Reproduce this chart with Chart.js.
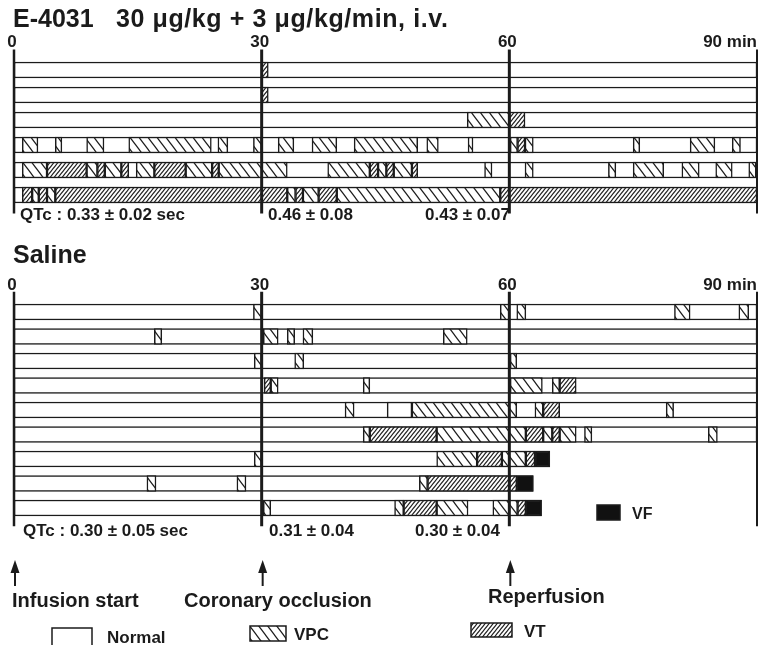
<!DOCTYPE html>
<html>
<head>
<meta charset="utf-8">
<script src="https://cdn.jsdelivr.net/npm/chart.js@4.4.1/dist/chart.umd.min.js"></script>
<style>
  body { margin: 0; background: #fff; }
  #wrap { position: relative; width: 762px; height: 645px; overflow: hidden; }
  canvas { position: absolute; left: 0; }
  #topChart { top: 0; }
  #salineChart { top: 245px; }
</style>
</head>
<body>
<div id="wrap">
  <canvas id="topChart" width="762" height="245"></canvas>
  <canvas id="salineChart" width="762" height="400"></canvas>
</div>
<script>
// arrhythmia episodes per animal, minutes from infusion start: [start, end, type]
const tickValues = [0, 30, 60, 90];
const tickLabels = ['0', '30', '60', '90 min'];

const e4031Rows = ['E1', 'E2', 'E3', 'E4', 'E5', 'E6'];
const e4031Ends = [90, 90, 90, 90, 90, 90];
const e4031Events = [
  [[30, 30.8, 'VT']],
  [[30, 30.8, 'VT']],
  [[54.9, 60, 'VPC'], [60, 61.9, 'VT']],
  [[1, 2.9, 'VPC'], [5, 5.8, 'VPC'], [8.8, 10.9, 'VPC'], [13.9, 23.9, 'VPC'], [24.7, 25.9, 'VPC'],
   [29, 30, 'VPC'], [32, 33.9, 'VPC'], [36.1, 39.1, 'VPC'], [41.2, 48.9, 'VPC'], [50, 51.4, 'VPC'],
   [55, 55.6, 'VPC'], [60.1, 61, 'VPC'], [61, 61.9, 'VT'], [61.9, 62.9, 'VPC'], [75, 75.8, 'VPC'],
   [81.9, 84.9, 'VPC'], [87, 88, 'VPC']],
  [[1, 4, 'VPC'], [4, 8.8, 'VT'], [8.8, 10.1, 'VPC'], [10.1, 11, 'VT'], [11, 13, 'VPC'], [13, 13.9, 'VT'],
   [14.8, 17, 'VPC'], [17, 20.8, 'VT'], [20.8, 24, 'VPC'], [24, 24.8, 'VT'], [24.8, 33.1, 'VPC'],
   [38, 43.1, 'VPC'], [43.1, 44.1, 'VT'], [44.1, 45.1, 'VPC'], [45.1, 46, 'VT'], [46, 48.2, 'VPC'],
   [48.2, 48.9, 'VT'], [57, 57.9, 'VPC'], [61.9, 62.9, 'VPC'], [72, 72.9, 'VPC'], [75, 78.7, 'VPC'],
   [80.9, 83, 'VPC'], [85, 87, 'VPC'], [89, 89.9, 'VPC']],
  [[1, 2.2, 'VT'], [2.2, 3, 'VPC'], [3, 4, 'VT'], [4, 5, 'VPC'], [5, 33.1, 'VT'], [33.1, 34.1, 'VPC'],
   [34.1, 35, 'VT'], [35, 36.9, 'VPC'], [36.9, 39.1, 'VT'], [39.1, 58.9, 'VPC'], [58.9, 90, 'VT']]
];
const e4031Qtc = ['QTc : 0.33 \u00b1 0.02 sec', '0.46 \u00b1 0.08', '0.43 \u00b1 0.07'];

const salineRows = ['S1', 'S2', 'S3', 'S4', 'S5', 'S6', 'S7', 'S8', 'S9'];
const salineEnds = [90, 90, 90, 90, 90, 90, 64.9, 62.9, 63.9];
const salineEvents = [
  [[29, 30, 'VPC'], [58.9, 60, 'VPC'], [60.9, 62, 'VPC'], [80, 81.9, 'VPC'], [87.8, 89, 'VPC']],
  [[17, 17.9, 'VPC'], [30.2, 32, 'VPC'], [33.1, 34, 'VPC'], [35, 36.2, 'VPC'], [52, 54.9, 'VPC']],
  [[29.1, 30, 'VPC'], [34, 35.1, 'VPC'], [60.1, 60.9, 'VPC']],
  [[30.3, 31.1, 'VT'], [31.1, 32, 'VPC'], [42.3, 43.1, 'VPC'], [60.1, 64, 'VPC'], [65.2, 66.1, 'VPC'],
   [66.1, 68.1, 'VT']],
  [[40.1, 41.2, 'VPC'], [45.2, 48.2, 'N'], [48.2, 60.9, 'VPC'], [63.1, 64.1, 'VPC'], [64.1, 66.1, 'VT'],
   [79, 79.9, 'VPC']],
  [[42.3, 43.1, 'VPC'], [43.1, 51.2, 'VT'], [51.2, 62, 'VPC'], [62, 64.1, 'VT'], [64.1, 65.2, 'VPC'],
   [65.2, 66.1, 'VT'], [66.1, 68.1, 'VPC'], [69.1, 70, 'VPC'], [84.1, 85.2, 'VPC']],
  [[29.1, 30, 'VPC'], [51.2, 56.1, 'VPC'], [56.1, 59.1, 'VT'], [59.1, 62, 'VPC'], [62, 63.1, 'VT'],
   [63.1, 64.9, 'VF']],
  [[16.1, 17.2, 'VPC'], [27, 28.1, 'VPC'], [49.1, 50.1, 'VPC'], [50.1, 60.9, 'VT'], [60.9, 62.9, 'VF']],
  [[30.2, 31.1, 'VPC'], [46.1, 47.2, 'VPC'], [47.2, 51.2, 'VT'], [51.2, 55, 'VPC'], [58, 61, 'VPC'],
   [61, 62, 'VT'], [62, 63.9, 'VF']]
];
const salineQtc = ['QTc : 0.30 \u00b1 0.05 sec', '0.31 \u00b1 0.04', '0.30 \u00b1 0.04'];

const eventLabels = ['Infusion start', 'Coronary occlusion', 'Reperfusion'];
const legendLabels = ['Normal', 'VPC', 'VT', 'VF'];

const ink = '#1b1b1b';
const FONT = '"Liberation Sans", Arial, Helvetica, sans-serif';

// diagonal hatch tile; falling = "\" lines, otherwise "/"
function hatch(w, h, falling, lw) {
  const c = document.createElement('canvas');
  c.width = w; c.height = h;
  const g = c.getContext('2d');
  g.fillStyle = '#fff';
  g.fillRect(0, 0, w, h);
  g.strokeStyle = ink;
  g.lineWidth = lw;
  const lines = falling
    ? [[-w, -h, 2 * w, 2 * h], [-w, 0, w, 2 * h], [0, -h, 2 * w, h]]
    : [[-w, 2 * h, 2 * w, -h], [-w, h, w, -h], [0, 2 * h, 2 * w, 0]];
  lines.forEach(l => { g.beginPath(); g.moveTo(l[0], l[1]); g.lineTo(l[2], l[3]); g.stroke(); });
  return g.createPattern(c, 'repeat');
}
const vpcFill = hatch(9, 12, true, 1.3);
const vtFill = hatch(4, 5, false, 1.1);
const fills = { Normal: '#fff', N: '#fff', VPC: vpcFill, VT: vtFill, VF: '#111' };

function buildDatasets(rows, ends, events) {
  const pick = type => rows.flatMap((r, i) =>
    events[i].filter(e => e[2] === type).map(e => ({ y: r, x: [e[0], e[1]] })));
  return [
    { label: 'VF', data: pick('VF'), backgroundColor: fills.VF },
    { label: 'VT', data: pick('VT'), backgroundColor: fills.VT },
    { label: 'VPC', data: pick('VPC'), backgroundColor: fills.VPC },
    { label: 'split', data: pick('N'), backgroundColor: fills.N },
    { label: 'Normal', data: rows.map((r, i) => ({ y: r, x: [0, ends[i]] })), backgroundColor: fills.Normal }
  ].map(d => Object.assign(d, {
    borderColor: ink, borderWidth: 1.5, borderSkipped: false,
    grouped: false, barThickness: 16
  }));
}

function text(ctx, s, x, y, size, align, spacing) {
  ctx.font = 'bold ' + size + 'px ' + FONT;
  ctx.textAlign = align || 'left';
  ctx.textBaseline = 'alphabetic';
  ctx.fillStyle = ink;
  ctx.letterSpacing = spacing || '0px';
  ctx.fillText(s, x, y);
  ctx.letterSpacing = '0px';
}

function drawGuides(ctx, x, area, labelY) {
  const widths = [2.5, 3, 3, 2];
  ctx.strokeStyle = ink;
  tickValues.forEach((v, i) => {
    const px = x.getPixelForValue(v);
    ctx.lineWidth = widths[i];
    ctx.beginPath();
    ctx.moveTo(px, area.top - 8);
    ctx.lineTo(px, area.bottom + 6);
    ctx.stroke();
    const last = i === tickValues.length - 1;
    text(ctx, tickLabels[i], last ? px : px - 2, labelY, 17, last ? 'right' : 'center');
  });
}

function drawQtc(ctx, labels, xs, y) {
  labels.forEach((s, i) => text(ctx, s, xs[i], y, 17));
}

function swatch(ctx, fill, l, t, w, h) {
  ctx.fillStyle = fill;
  ctx.fillRect(l, t, w, h);
  ctx.strokeStyle = ink;
  ctx.lineWidth = 1.5;
  ctx.strokeRect(l, t, w, h);
}

function arrow(ctx, px, tip, tail) {
  ctx.strokeStyle = ink;
  ctx.fillStyle = ink;
  ctx.lineWidth = 2;
  ctx.beginPath(); ctx.moveTo(px, tip + 8); ctx.lineTo(px, tail); ctx.stroke();
  ctx.beginPath();
  ctx.moveTo(px, tip); ctx.lineTo(px - 4.5, tip + 13); ctx.lineTo(px + 4.5, tip + 13);
  ctx.closePath(); ctx.fill();
}

const topOverlay = {
  id: 'topOverlay',
  afterDatasetsDraw(chart) {
    const ctx = chart.ctx, x = chart.scales.x, area = chart.chartArea;
    ctx.save();
    text(ctx, 'E-4031', 13, 27, 25);
    text(ctx, '30 \u03bcg/kg + 3 \u03bcg/kg/min, i.v.', 116, 27, 25, 'left', '0.6px');
    drawGuides(ctx, x, area, 47);
    drawQtc(ctx, e4031Qtc, [20, 268, 425], 220);
    ctx.restore();
  }
};

const salineOverlay = {
  id: 'salineOverlay',
  afterDatasetsDraw(chart) {
    const ctx = chart.ctx, x = chart.scales.x, area = chart.chartArea;
    ctx.save();
    text(ctx, 'Saline', 13, 18, 25);
    drawGuides(ctx, x, area, 45);
    drawQtc(ctx, salineQtc, [23, 269, 415], 291);
    [0, 30, 60].forEach(v => arrow(ctx, x.getPixelForValue(v) + 1, 315, 341));
    text(ctx, eventLabels[0], 12, 362, 20);
    text(ctx, eventLabels[1], 184, 362, 20);
    text(ctx, eventLabels[2], 488, 358, 20);
    // legend
    swatch(ctx, fills.Normal, 52, 383, 40, 20);
    text(ctx, legendLabels[0], 107, 398, 17);
    swatch(ctx, fills.VPC, 250, 381, 36, 15);
    text(ctx, legendLabels[1], 294, 395, 17);
    swatch(ctx, fills.VT, 471, 378, 41, 14);
    text(ctx, legendLabels[2], 524, 392, 17);
    swatch(ctx, fills.VF, 597, 260, 23, 15);
    text(ctx, legendLabels[3], 632, 274, 16);
    ctx.restore();
  }
};

function makeChart(id, rows, ends, events, padding, overlay) {
  return new Chart(document.getElementById(id), {
    type: 'bar',
    data: { labels: rows, datasets: buildDatasets(rows, ends, events) },
    options: {
      indexAxis: 'y',
      responsive: false,
      animation: false,
      devicePixelRatio: 1,
      layout: { padding: padding },
      scales: {
        x: { type: 'linear', min: 0, max: 90, display: false },
        y: { type: 'category', offset: true, display: false }
      },
      plugins: { legend: { display: false }, tooltip: { enabled: false } }
    },
    plugins: [overlay]
  });
}

makeChart('topChart', e4031Rows, e4031Ends, e4031Events,
  { left: 14, right: 5, top: 57.5, bottom: 37.5 }, topOverlay);
makeChart('salineChart', salineRows, salineEnds, salineEvents,
  { left: 14, right: 5, top: 54.75, bottom: 124.75 }, salineOverlay);
</script>
</body>
</html>
